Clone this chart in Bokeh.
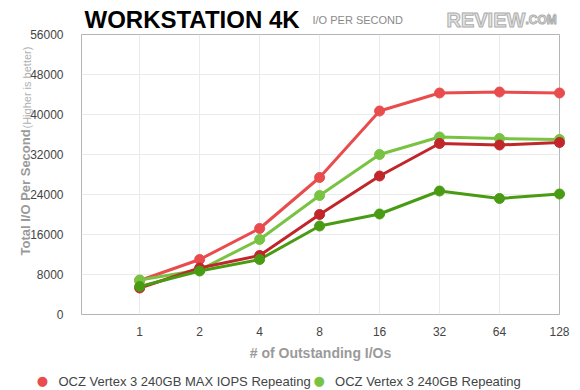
from math import pi
from bokeh.plotting import figure
from bokeh.models import Range1d, FixedTicker
from bokeh.core.properties import value
from bokeh.embed import file_html
from bokeh.resources import INLINE

# ---- data ----
outstanding_ios = ["1", "2", "4", "8", "16", "32", "64", "128"]
max_iops_repeating = [6800, 11000, 17200, 27400, 40700, 44300, 44500, 44300]
vertex3_repeating = [6900, 8900, 15000, 23800, 32000, 35500, 35200, 35000]
max_iops_random = [5300, 9300, 11800, 20000, 27700, 34200, 33900, 34400]
vertex3_random = [5600, 8700, 11000, 17700, 20100, 24700, 23200, 24100]
y_ticks = [0, 8000, 16000, 24000, 32000, 40000, 48000, 56000]

series_values = [max_iops_repeating, vertex3_repeating, max_iops_random, vertex3_random]
series_colors = ["#e94c4d", "#78c442", "#c1262b", "#4a9b14"]
legend_names = ["OCZ Vertex 3 240GB MAX IOPS Repeating", "OCZ Vertex 3 240GB Repeating"]
legend_colors = series_colors[:2]

FONT = "Liberation Sans"

# ---- layout ----
W, H = 580, 390
BL, BR, BT, BB = 81, 21, 34, 76
FW, FH = W - BL - BR, H - BT - BB
X0, X1 = 0.03, len(outstanding_ios)
Y0, Y1 = y_ticks[0], y_ticks[-1]

def sx(px):
    """pixel offset from frame left -> data x"""
    return X0 + px * (X1 - X0) / FW

def sy(py):
    """pixel offset from frame bottom (upwards) -> data y"""
    return Y0 + py * (Y1 - Y0) / FH

x_pos = list(range(1, len(outstanding_ios) + 1))

p = figure(
    width=W, height=H,
    output_backend="svg", toolbar_location=None,
    x_range=Range1d(X0, X1), y_range=Range1d(Y0, Y1),
    min_border_left=BL, min_border_right=BR,
    min_border_top=BT, min_border_bottom=BB,
    background_fill_color="white", border_fill_color="white",
)
p.outline_line_color = "#b5b5b5"
p.outline_line_width = 1

# grid
p.xgrid.grid_line_color = "#ebebeb"
p.ygrid.grid_line_color = "#ebebeb"
p.xgrid.ticker = FixedTicker(ticks=x_pos)
p.ygrid.ticker = FixedTicker(ticks=y_ticks)

# axes
for ax in (p.xaxis[0], p.yaxis[0]):
    ax.axis_line_color = None
    ax.major_tick_line_color = None
    ax.minor_tick_line_color = None
    ax.major_label_text_font = FONT
    ax.major_label_text_color = "#444444"

p.xaxis.ticker = FixedTicker(ticks=x_pos)
p.xaxis.major_label_overrides = {i: lab for i, lab in zip(x_pos, outstanding_ios)}
p.xaxis.major_label_text_font_size = "12px"
p.xaxis.major_label_standoff = 6
p.xaxis.axis_label = "# of Outstanding I/Os"
p.xaxis.axis_label_text_font = FONT
p.xaxis.axis_label_text_font_style = "bold"
p.xaxis.axis_label_text_font_size = "14px"
p.xaxis.axis_label_text_color = "#9a9a9a"
p.xaxis.axis_label_standoff = 6

p.yaxis.ticker = FixedTicker(ticks=y_ticks)
p.yaxis.major_label_text_font_size = "12px"
p.yaxis.major_label_standoff = 12

# series
for vals, col in zip(series_values, series_colors):
    p.line(x_pos, vals, line_color=col, line_width=3, line_join="round")
    p.scatter(x_pos, vals, size=10, fill_color=col, line_color=col, level="overlay")

# legend (drawn as text so it may sit outside the frame)
leg_py = -67
leg_glyph_px = [-39, 237.6]
p.text([sx(v) for v in leg_glyph_px], [sy(leg_py + 1)] * 2, text=["\u25cf"] * 2,
       text_font=value("DejaVu Sans"), text_font_size="13px", text_color=legend_colors,
       text_align="center", text_baseline="middle", level="overlay")
p.text([sx(v + 16) for v in leg_glyph_px], [sy(leg_py)] * 2, text=legend_names,
       text_font=value(FONT), text_font_size="13px", text_color="#444444",
       text_align="left", text_baseline="middle", level="overlay")

def add_text(px, py, txt, size, color, style="normal", angle=0.0, outline=None):
    kw = {}
    if outline:
        kw["text_outline_color"] = outline
    p.text([sx(px)], [sy(py)], text=[txt], angle=angle,
           text_font=value(FONT), text_font_size=size, text_font_style=style,
           text_color=color, text_align="left", text_baseline="alphabetic",
           level="overlay", **kw)

# y axis title (two parts)
add_text(-56, 59, "Total I/O Per Second", "13px", "#9a9a9a", "bold", pi / 2)
add_text(-55, 186, "(Higher is better)", "11px", "#b0b0b0", "normal", pi / 2)

# titles
add_text(3, 295, "WORKSTATION 4K", "24px", "#000000", "bold")
add_text(231, 295, "I/O PER SECOND", "11px", "#8a8a8a")
add_text(365, 295, "REVIEW", "20px", "#e6e6e6", "bold", outline="#adadad")
add_text(444, 295, ".COM", "12px", "#e6e6e6", "bold", outline="#adadad")

open("out.html", "w").write(file_html(p, INLINE))
